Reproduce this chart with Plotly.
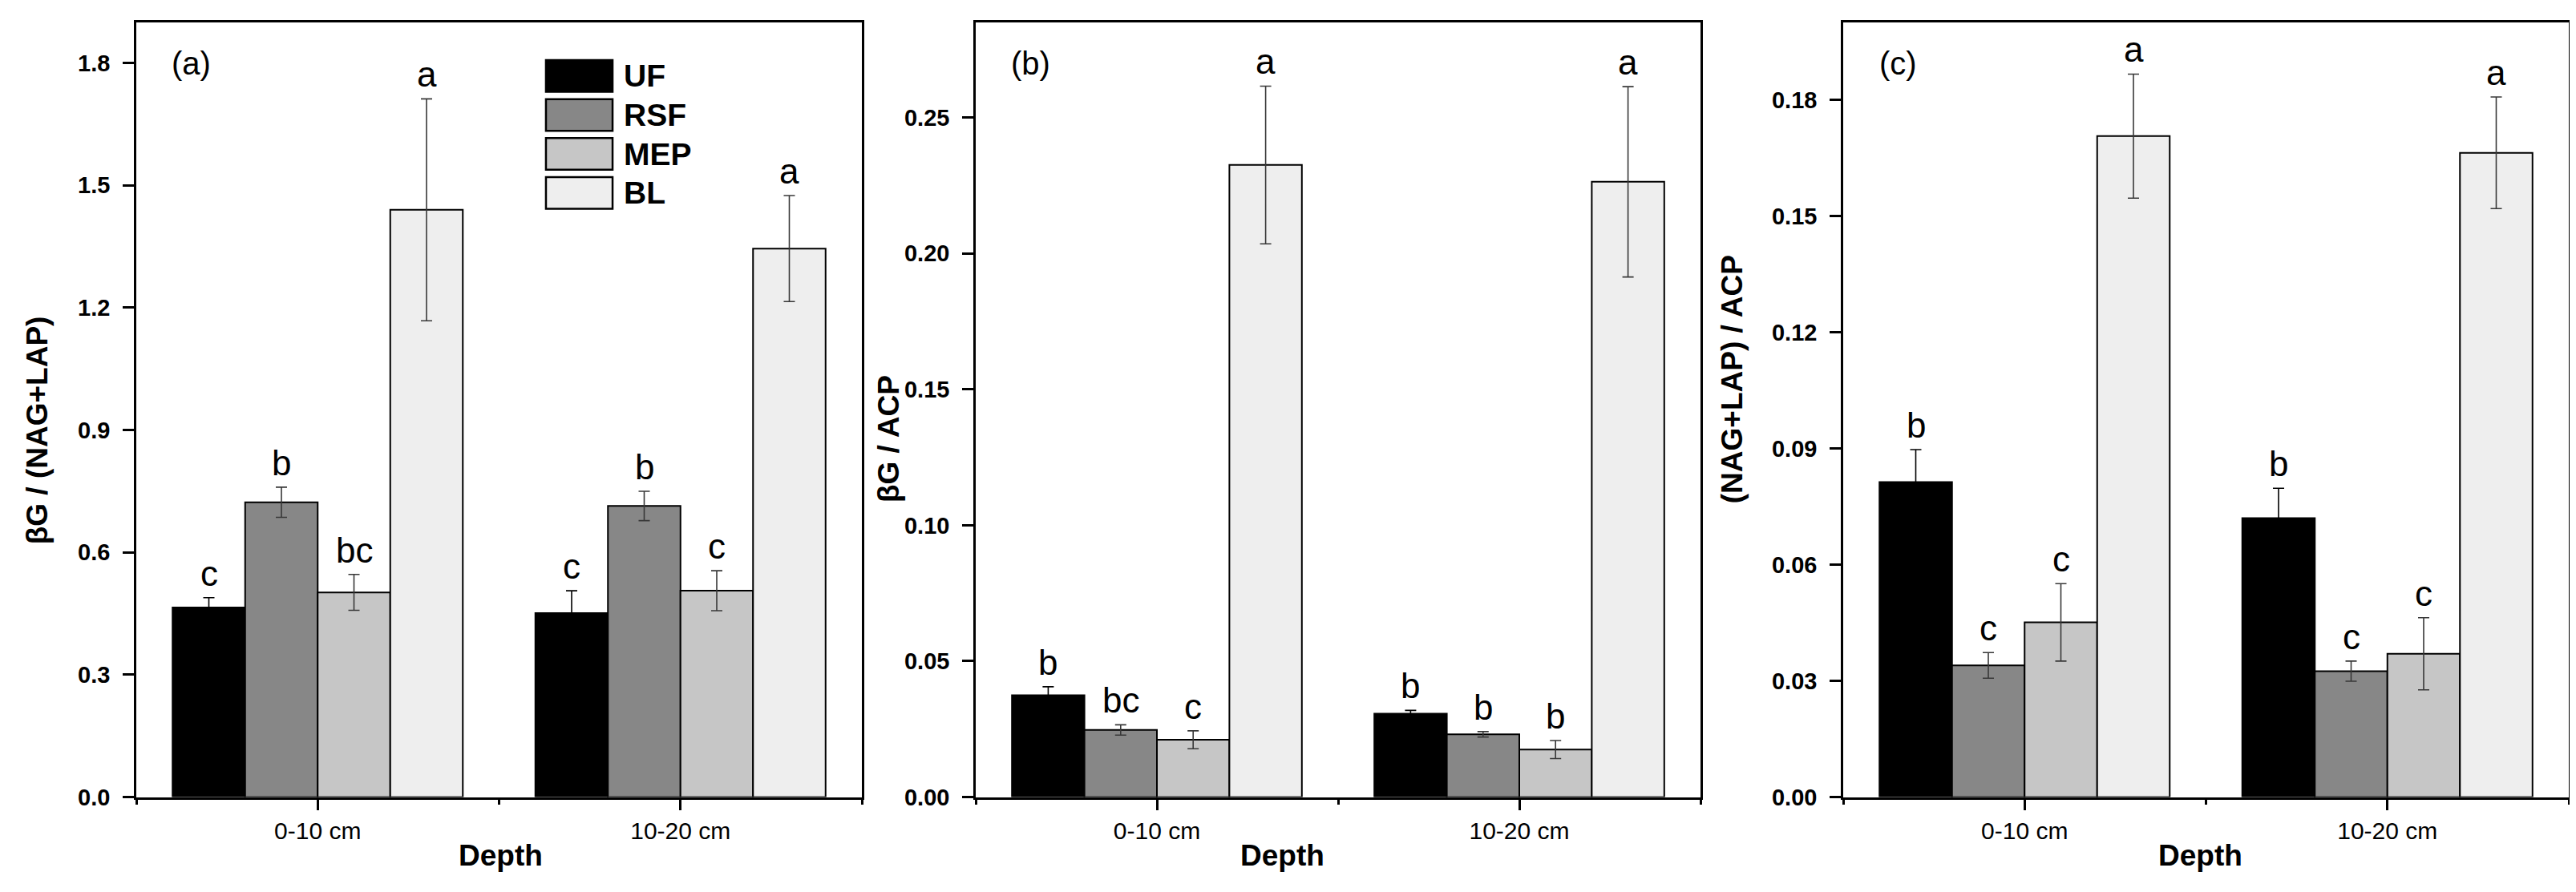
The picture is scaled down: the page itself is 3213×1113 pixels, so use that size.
import plotly.graph_objects as go

# data
depths = ['0-10 cm', '10-20 cm']
sites = ['UF', 'RSF', 'MEP', 'BL']
colors = ['#000000', '#878787', '#c6c6c6', '#eeeeee']
err_colors = ['#000000', '#383838', '#383838', '#383838']

# (a) bG / (NAG+LAP)
a_uf = [0.465, 0.451]
a_rsf = [0.723, 0.714]
a_mep = [0.502, 0.506]
a_bl = [1.440, 1.345]
a_uf_err = [0.024, 0.055]
a_rsf_err = [0.037, 0.036]
a_mep_err = [0.044, 0.049]
a_bl_err = [0.272, 0.130]
a_letters = [['c', 'c'], ['b', 'b'], ['bc', 'c'], ['a', 'a']]

# (b) bG / ACP
b_uf = [0.0375, 0.0307]
b_rsf = [0.0247, 0.0231]
b_mep = [0.0211, 0.0175]
b_bl = [0.2325, 0.2263]
b_uf_err = [0.0031, 0.0012]
b_rsf_err = [0.0019, 0.0010]
b_mep_err = [0.0033, 0.0033]
b_bl_err = [0.029, 0.035]
b_letters = [['b', 'b'], ['bc', 'b'], ['c', 'b'], ['a', 'a']]

# (c) (NAG+LAP) / ACP
c_uf = [0.0813, 0.0720]
c_rsf = [0.0340, 0.0325]
c_mep = [0.0451, 0.0370]
c_bl = [0.1706, 0.1663]
c_uf_err = [0.0084, 0.0077]
c_rsf_err = [0.0033, 0.0026]
c_mep_err = [0.0100, 0.0093]
c_bl_err = [0.0160, 0.0144]
c_letters = [['b', 'b'], ['c', 'c'], ['c', 'c'], ['a', 'a']]

panels = [
    dict(means=[a_uf, a_rsf, a_mep, a_bl], errs=[a_uf_err, a_rsf_err, a_mep_err, a_bl_err],
         letters=a_letters, label='(a)', ytitle='βG / (NAG+LAP)', yrange=[0, 1.9], dtick=0.3,
         fmt='.1f', dom=[162, 1067], ytpos=(38, 537), xtpos=616),
    dict(means=[b_uf, b_rsf, b_mep, b_bl], errs=[b_uf_err, b_rsf_err, b_mep_err, b_bl_err],
         letters=b_letters, label='(b)', ytitle='βG / ACP', yrange=[0, 0.285], dtick=0.05,
         fmt='.2f', dom=[1209, 2113], ytpos=(1100, 548), xtpos=1591),
    dict(means=[c_uf, c_rsf, c_mep, c_bl], errs=[c_uf_err, c_rsf_err, c_mep_err, c_bl_err],
         letters=c_letters, label='(c)', ytitle='(NAG+LAP) / ACP', yrange=[0, 0.2], dtick=0.03,
         fmt='.2f', dom=[2291, 3196], ytpos=(2152, 472), xtpos=2736),
]

W, H = 3213, 1113
TOP, BOT = 20, 1001
FONT = 'Liberation Sans, Arial, sans-serif'
xpos = [1, 2]

fig = go.Figure()
annotations = []
shapes = []

for p, pan in enumerate(panels):
    n = '' if p == 0 else str(p + 1)
    for j, site in enumerate(sites):
        fig.add_trace(go.Bar(
            x=xpos, y=pan['means'][j], name=site, showlegend=False,
            xaxis='x' + n, yaxis='y' + n,
            marker=dict(color=colors[j], line=dict(color='black', width=2)),
            error_y=dict(type='data', array=pan['errs'][j], color=err_colors[j], thickness=1.6, width=7),
        ))
        for k in range(len(depths)):
            annotations.append(dict(
                x=xpos[k] + (j - 1.5) * 0.2, y=pan['means'][j][k] + pan['errs'][j][k],
                xref='x' + n, yref='y' + n, text=pan['letters'][j][k], showarrow=False,
                yanchor='bottom', yshift=4, font=dict(family=FONT, size=44, color='black')))

    axis_common = dict(showline=True, linewidth=2.5, linecolor='black', mirror=True,
                       ticks='outside', ticklen=14, tickwidth=2.5, tickcolor='black',
                       showgrid=False, zeroline=False)
    fig.update_layout(**{
        'xaxis' + n: dict(axis_common, domain=[pan['dom'][0] / W, pan['dom'][1] / W],
                          anchor='y' + n, range=[0.5, 2.5], tickvals=xpos, ticktext=depths,
                          tickfont=dict(family=FONT, size=30, color='black'),
                          minor=dict(tickvals=[0.5, 1.5, 2.5], ticks='outside', ticklen=7,
                                     tickwidth=2.5, tickcolor='black')),
        'yaxis' + n: dict(axis_common, domain=[1 - BOT / H, 1 - TOP / H], anchor='x' + n,
                          range=pan['yrange'], dtick=pan['dtick'], tick0=0, tickformat=pan['fmt'],
                          ticklabelstandoff=10,
                          tickfont=dict(family=FONT, size=29, color='black', weight='bold')),
    })

    # axis titles and panel label
    annotations.append(dict(x=pan['ytpos'][0] / W, y=1 - pan['ytpos'][1] / H, xref='paper', yref='paper',
                            text='<b>' + pan['ytitle'] + '</b>', textangle=-90, showarrow=False,
                            xanchor='center', yanchor='middle', font=dict(family=FONT, size=37, color='black')))
    annotations.append(dict(x=pan['xtpos'] / W, y=1 - 1075 / H, xref='paper', yref='paper',
                            text='<b>Depth</b>', showarrow=False, xanchor='center', yanchor='middle',
                            font=dict(family=FONT, size=37, color='black')))
    annotations.append(dict(x=(pan['dom'][0] + 68) / W, y=1 - 72 / H, xref='paper', yref='paper',
                            text=pan['label'], showarrow=False, xanchor='center', yanchor='middle',
                            font=dict(family=FONT, size=40, color='black')))

# legend drawn as boxes in panel (a)
for j, site in enumerate(sites):
    top = 0.951 - j * 0.0503
    shapes.append(dict(type='rect', xref='x domain', yref='y domain', x0=0.5646, x1=0.6564,
                       y0=top - 0.0408, y1=top, fillcolor=colors[j], line=dict(color='black', width=2.5)))
    annotations.append(dict(xref='x domain', yref='y domain', x=0.6696, y=top - 0.0204, text='<b>' + site + '</b>',
                            showarrow=False, xanchor='left', yanchor='middle',
                            font=dict(family=FONT, size=39, color='black')))

fig.update_layout(
    width=W, height=H, margin=dict(l=0, r=0, t=0, b=0),
    paper_bgcolor='white', plot_bgcolor='white',
    barmode='group', bargap=0.2, bargroupgap=0,
    annotations=annotations, shapes=shapes,
)

fig.write_html('out.html')
